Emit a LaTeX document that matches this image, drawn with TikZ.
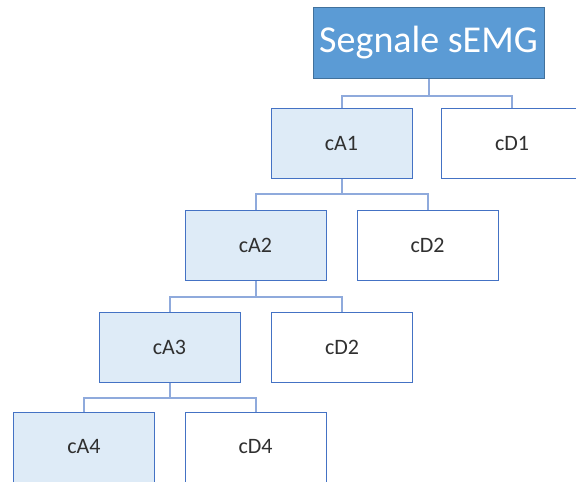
\documentclass[tikz,border=0pt]{standalone}
\usepackage{fontspec}
\usepackage{tikz}
\usetikzlibrary{positioning}
\setmainfont{Carlito}
\definecolor{rootblue}{HTML}{5B9BD5}
\definecolor{rootedge}{HTML}{41719C}
\definecolor{lightblue}{HTML}{DEEBF7}
\definecolor{boxedge}{HTML}{4472C4}
\definecolor{linkblue}{HTML}{8FAADC}
\definecolor{textgrey}{HTML}{303030}
\tikzset{rootbox/.style = {draw=rootedge, fill=rootblue, line width=1pt,
                           minimum width=231pt, minimum height=71pt,
                           text=white, font=\fontsize{38}{40}\selectfont},
         abox/.style = {draw=boxedge, fill=lightblue, line width=1pt,
                        minimum width=141pt, minimum height=70pt,
                        text=textgrey, font=\fontsize{22}{24}\selectfont},
         dbox/.style = {abox, fill=white},
         link/.style = {draw=linkblue, line width=2pt}}

\begin{document}
\begin{tikzpicture}[x=1pt, y=-1pt]
      \useasboundingbox (0, 0) rectangle (576, 482);
      \clip (0, 0) rectangle (576, 482);
      % boxes
      \node [rootbox] (root) at (428.5, 42.5) {Segnale sEMG};
      \node [abox] (cA1) at (341.5, 143.5) {cA1};
      \node [dbox] (cD1) at (512, 143.5) {cD1};
      \node [abox] (cA2) at (255.5, 245.5) {cA2};
      \node [dbox] (cD2) at (427.5, 245.5) {cD2};
      \node [abox] (cA3) at (169.5, 347) {cA3};
      \node [dbox] (cD3) at (342, 347) {cD2};
      \node [abox] (cA4) at (84, 447) {cA4};
      \node [dbox] (cD4) at (255.5, 447) {cD4};
      % links
      \draw [link] (root.south) -- ++(0, 17) coordinate (bus0);
      \draw [link] (cA1.north) |- (bus0) -| (cD1.north);
      \draw [link] (cA1.south) -- ++(0, 15) coordinate (bus1);
      \draw [link] (cA2.north) |- (bus1) -| (cD2.north);
      \draw [link] (cA2.south) -- ++(0, 16) coordinate (bus2);
      \draw [link] (cA3.north) |- (bus2) -| (cD3.north);
      \draw [link] (cA3.south) -- ++(0, 15) coordinate (bus3);
      \draw [link] (cA4.north) |- (bus3) -| (cD4.north);
    \end{tikzpicture}
\end{document}
